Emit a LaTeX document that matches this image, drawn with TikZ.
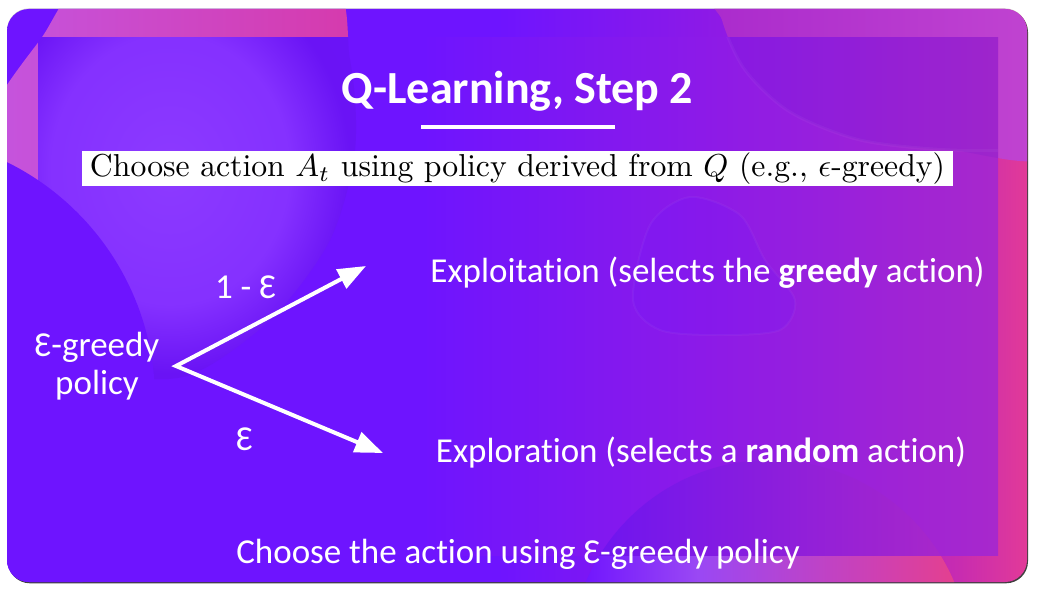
\documentclass[tikz,border=0pt]{standalone}
\usepackage{fontspec}
\usepackage{graphicx}
\usetikzlibrary{arrows.meta}
\newfontfamily\slidefont[Ligatures=NoCommon]{Carlito}

% palette
\definecolor{basev}{HTML}{6E14FF}
\definecolor{purp}{HTML}{9A1CDC}
\definecolor{magen}{HTML}{C82CB0}
\definecolor{pinkr}{HTML}{E23A98}
\definecolor{innmid}{HTML}{8C1AE8}
\definecolor{innright}{HTML}{A828CC}
\definecolor{blobL}{HTML}{C455E0}
\definecolor{blobR}{HTML}{D63AAC}
\definecolor{lightv}{HTML}{8C3AFF}
\definecolor{brA}{HTML}{6C10FF}
\definecolor{brB}{HTML}{9A48F4}
\definecolor{brC}{HTML}{D040B0}
\definecolor{brD}{HTML}{E84088}

% shadings (the central 25bp..75bp band spans the filled path)
\pgfdeclarehorizontalshading{bgshade}{100bp}{color(0bp)=(basev); color(49bp)=(basev); color(64bp)=(purp); color(71.7bp)=(magen); color(75bp)=(pinkr); color(100bp)=(pinkr)}
\pgfdeclarehorizontalshading{innershade}{100bp}{color(0bp)=(basev); color(45bp)=(basev); color(59.5bp)=(innmid); color(75bp)=(innright); color(100bp)=(innright)}
\pgfdeclarehorizontalshading{brblob}{100bp}{color(0bp)=(brA); color(25bp)=(brA); color(41bp)=(brB); color(64bp)=(brC); color(75bp)=(brD); color(100bp)=(brD)}
\pgfdeclareradialshading{tlglow}{\pgfpoint{0bp}{0bp}}{color(0bp)=(lightv); color(16bp)=(lightv!75!basev); color(24bp)=(basev!96!black); color(50bp)=(basev)}

\tikzset{
  txt/.style={text=white, font=\slidefont\fontsize{35}{38}\selectfont, inner sep=0pt, anchor=base},
  titletxt/.style={text=white, font=\slidefont\bfseries\fontsize{46}{52}\selectfont, inner sep=0pt, anchor=base},
  flow/.style={draw=white, line width=4pt, line join=miter,
    {Triangle[length=28pt,width=21pt]}-{Triangle[length=28pt,width=21pt]}},
}

\begin{document}
\begin{tikzpicture}[x=1pt,y=-1pt]
  \useasboundingbox (0,0) rectangle (1040,591);
  \fill[white] (0,0) rectangle (1040,591);

  % card shadow
  \fill[black!20,rounded corners=22pt] (7,8.4) rectangle (1027,582);
  \fill[black!75,rounded corners=22pt] (8,10.2) rectangle (1028,583.3);

  \begin{scope}
    \clip[rounded corners=22pt] (7,9) rectangle (1027,582);
    % slide background
    \shade[shading=bgshade] (7,9) rectangle (1027,582);
    % pink blob, upper left
    \shade[left color=blobL, right color=blobR] plot[smooth cycle] coordinates
      {(105,-30) (320,-30) (350,60) (355,150) (330,240) (270,320) (190,375) (120,370) (70,300) (20,210) (-15,130) (40,40)};
    % violet disc, lower left
    \fill[basev] (-110,400) circle (265);
    % blob, upper right
    \shade[left color=innright, right color=blobL!70!magen] plot[smooth cycle] coordinates
      {(717,-30) (722,20) (745,70) (790,112) (860,140) (950,150) (1060,150) (1060,-30)};
    % disc, lower right
    \shade[shading=brblob] (770,660) circle (200);

    % translucent panel
    \shade[shading=innershade] (38,38) rectangle (998,555);
    \begin{scope}
      \clip (38,38) rectangle (998,555);
      \shade[shading=tlglow] plot[smooth cycle] coordinates
        {(105,-30) (320,-30) (350,60) (355,150) (330,240) (270,320) (190,375) (120,370) (70,300) (20,210) (-15,130) (40,40)};
      \fill[basev] (-110,400) circle (265);
      \fill[basev!80!black, opacity=0.12] plot[smooth cycle] coordinates
        {(717,-30) (722,20) (745,70) (790,112) (860,140) (950,150) (1060,150) (1060,-30)};
      \draw[white, opacity=0.04, line width=3pt] plot[smooth] coordinates
        {(717,-30) (722,20) (745,70) (790,112) (860,140) (950,150) (1060,150)};
      \fill[basev, opacity=0.2] plot[smooth cycle] coordinates
        {(633,300) (650,225) (690,197) (740,215) (765,260) (795,300) (780,330) (720,335) (660,330)};
      \draw[white, opacity=0.04, line width=2pt] plot[smooth cycle] coordinates
        {(633,300) (650,225) (690,197) (740,215) (765,260) (795,300) (780,330) (720,335) (660,330)};
      \shade[left color=basev!95!black, middle color=basev!70!lightv, right color=innright!90!pinkr, opacity=0.9] (770,660) circle (200);
    \end{scope}
  \end{scope}

  % heading
  \node[titletxt] (title) at (517.5,103) {Q-Learning, Step 2};
  \draw[white, line width=4pt] (421,127) -- (615,127);

  % algorithm line
  \node[fill=white, minimum width=871pt, minimum height=35pt, inner sep=0pt] (rule) at (517.5,168.5)
    {\resizebox{855pt}{!}{Choose action $A_t$ using policy derived from $Q$ (e.g., $\epsilon$-greedy)}};

  % branching
  \node[txt, anchor=center, align=center] (policy) at (97,366) {Ɛ-greedy\\policy};
  \coordinate (fork) at (176,366);
  \coordinate (upTip) at (366,266);
  \coordinate (downTip) at (383,453);
  \draw[flow] (upTip) -- (fork) -- (downTip);
  \node[txt] (oneminus) at (245.5,298) {1 - Ɛ};
  \node[txt] (eps) at (244.5,450) {Ɛ};

  \node[txt] (exploit) at (707.5,282) {Exploitation (selects the \textbf{greedy} action)};
  \node[txt] (explore) at (701,462) {Exploration (selects a \textbf{random} action)};

  \node[txt] (summary) at (518,563) {Choose the action using Ɛ-greedy policy};
\end{tikzpicture}
\end{document}
